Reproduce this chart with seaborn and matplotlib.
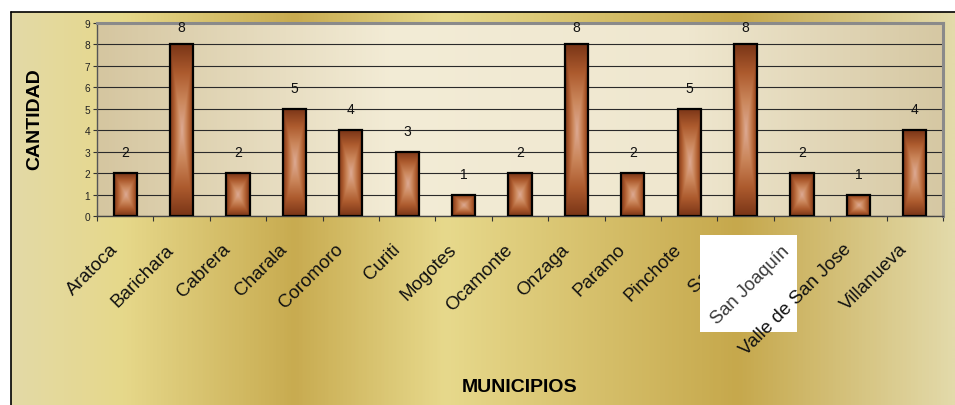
import numpy as np
import pandas as pd
import matplotlib
matplotlib.use('Agg')
import matplotlib.pyplot as plt
import seaborn as sns
from matplotlib.colors import LinearSegmentedColormap
from matplotlib.patches import Rectangle
from matplotlib.lines import Line2D
from matplotlib.transforms import ScaledTranslation

# ---- data ----
municipios = ["Aratoca", "Barichara", "Cabrera", "Charala", "Coromoro", "Curiti",
              "Mogotes", "Ocamonte", "Onzaga", "Paramo", "Pinchote", "San Gil",
              "San Joaquín", "Valle de San Jose", "Villanueva"]
cantidad = [2, 8, 2, 5, 4, 3, 1, 2, 8, 2, 5, 8, 2, 1, 4]
y_ticks = list(range(0, 10))
overlay_label = "San Joaquín"
y_title = "CANTIDAD"
x_title = "MUNICIPIOS"

sns.set_theme(style="white")
plt.rcParams['font.family'] = ['Liberation Sans', 'DejaVu Sans']

W, H = 955, 406
fig = plt.figure(figsize=(W / 100, H / 100), dpi=100)
fig.patch.set_facecolor('white')

# ---- chart area background (gold gradient) ----
bg = fig.add_axes([0, 0, 1, 1], zorder=-10)
bg.set_axis_off()
bg.set_xlim(0, W)
bg.set_ylim(H, 0)
stops = [(0, '#e3daa9'), (122, '#e6d88a'), (293, '#c8ab50'), (445, '#e7d98c'),
         (738, '#c6a84c'), (955, '#e3daaa')]
cmap_bg = LinearSegmentedColormap.from_list('bg', [(p / 955, c) for p, c in stops])
bg.imshow(np.linspace(0, 1, 955)[None, :], cmap=cmap_bg, extent=[0, W, H, 13],
          aspect='auto', interpolation='bilinear')
bg.add_patch(Rectangle((0, 0), 10.5, H, facecolor='white', edgecolor='none'))
bg.add_patch(Rectangle((0, 0), W, 13, facecolor='white', edgecolor='none'))
bg.add_line(Line2D([10.5, 10.5], [13, H], color='black', lw=1.2))
bg.add_line(Line2D([10.5, W], [13, 13], color='black', lw=1.2))

# ---- main axes ----
ax = fig.add_axes([97 / W, 1 - 217 / H, (943 - 97) / W, (217 - 24) / H])
df = pd.DataFrame({'Municipio': municipios, 'Cantidad': cantidad})
sns.barplot(data=df, x='Municipio', y='Cantidad', ax=ax, color='#a0502a',
            width=0.41, edgecolor='black', linewidth=1.6, saturation=1)

# bar gradients
cmap_bar = LinearSegmentedColormap.from_list(
    'bar', ['#ddaa94', '#cb875c', '#ad5b2e', '#7a3517'])
u = np.linspace(-1, 1, 200)
U, V = np.meshgrid(u, u)
T = np.maximum(np.abs(U), np.abs(V))
for p in list(ax.patches):
    x0, y0, w, h = p.get_x(), p.get_y(), p.get_width(), p.get_height()
    im = ax.imshow(T, cmap=cmap_bar, vmin=0, vmax=1, extent=[x0, x0 + w, y0, y0 + h],
                   aspect='auto', zorder=2, interpolation='bilinear')
    im.set_clip_path(p)
    p.set_facecolor('none')
    p.set_zorder(3)

# plot area background
cmap_pa = LinearSegmentedColormap.from_list(
    'pa', [(0, '#d5c6a0'), (0.35, '#f3ecd6'), (0.7, '#efe7cf'), (1, '#d6c8a3')])
ax.imshow(np.linspace(0, 1, 256)[None, :], cmap=cmap_pa, extent=[-0.5, 14.5, 0, 9],
          aspect='auto', zorder=-1, interpolation='bilinear')

ax.set_xlim(-0.5, 14.5)
ax.set_ylim(0, 9)
ax.set_yticks(y_ticks)
ax.yaxis.grid(True, color='#2a2a2a', lw=0.8)
ax.xaxis.grid(False)
ax.set_axisbelow(True)

for s in ['top', 'right']:
    ax.spines[s].set_color('#8a8a8a')
    ax.spines[s].set_linewidth(2.2)
ax.spines['left'].set_color('#555555')
ax.spines['left'].set_linewidth(1)
ax.spines['bottom'].set_color('#444444')
ax.spines['bottom'].set_linewidth(1)

ax.tick_params(axis='y', which='major', left=True, length=3, width=0.8, color='#333',
               labelsize=7.3, labelcolor='#222', pad=2)
ax.set_xticks(range(len(municipios)))
ax.tick_params(axis='x', which='major', length=0, pad=10)
ax.set_xticks(np.arange(-0.5, len(municipios), 1), minor=True)
ax.tick_params(axis='x', which='minor', bottom=True, length=3.5, width=0.8,
               color='#333', direction='out')
ax.set_xticklabels(municipios, rotation=45, ha='right', rotation_mode='anchor',
                   fontsize=13.5, color='#111')
shift = ScaledTranslation(-0.16, -0.105, fig.dpi_scale_trans)
for lab in ax.get_xticklabels():
    lab.set_transform(lab.get_transform() + shift)

# value labels
for i, v in enumerate(cantidad):
    ax.text(i, min(v + 0.97, 8.8), str(v), ha='center', va='center', fontsize=10,
            color='#111', zorder=4, clip_on=False)

ax.set_ylabel(y_title, fontsize=14, fontweight='bold', color='black')
ax.yaxis.label.set_va('center')
ax.yaxis.set_label_coords(-0.073, 0.508)
ax.set_xlabel(x_title, fontsize=14, fontweight='bold', color='black')
ax.xaxis.set_label_coords(0.5, -0.886)
ax.xaxis.label.set_va('center')

fig.canvas.draw()

# pasted white box with label
fig.add_artist(Rectangle((700 / W, 1 - 333 / H), 97 / W, 97 / H, transform=fig.transFigure,
                         facecolor='white', edgecolor='none', zorder=5))
fig.text(750 / W, 1 - 286 / H, overlay_label, rotation=45, rotation_mode='anchor',
         ha='center', va='center', fontsize=13.2, color='#3a3a3a', zorder=6)

# label that sits on top of the box
lab = ax.get_xticklabels()[13]
fig.text(*lab.get_position(), lab.get_text(), transform=lab.get_transform(),
         rotation=45, rotation_mode='anchor', ha='right', va='top', fontsize=13.5,
         color='#111', zorder=7)
lab.set_alpha(0)

fig.savefig('out.png', dpi=100, facecolor='white')
